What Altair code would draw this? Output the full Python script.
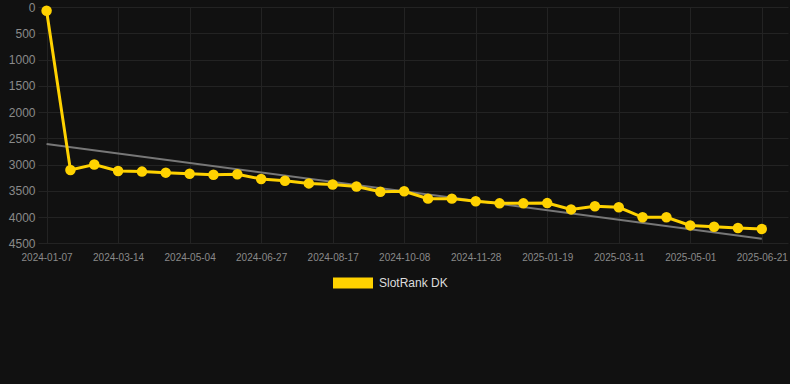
import altair as alt
import pandas as pd

# ---- data ----
series_name = "SlotRank DK"
ranks = [70, 3105, 3000, 3125, 3135, 3155, 3175, 3195, 3185, 3275, 3310,
         3360, 3380, 3420, 3520, 3510, 3650, 3650, 3700, 3740, 3740, 3735,
         3855, 3795, 3815, 4005, 4005, 4160, 4185, 4210, 4230]
tick_labels = ["2024-01-07", "2024-03-14", "2024-05-04", "2024-06-27",
               "2024-08-17", "2024-10-08", "2024-11-28", "2025-01-19",
               "2025-03-11", "2025-05-01", "2025-06-21"]
trend_idx = [0, 30]
trend_vals = [2610, 4413]
y_ticks = [0, 500, 1000, 1500, 2000, 2500, 3000, 3500, 4000, 4500]

df = pd.DataFrame({"idx": list(range(len(ranks))), "rank": ranks,
                   "series": [series_name] * len(ranks)})
trend = pd.DataFrame({"idx": trend_idx, "rank": trend_vals})

YELLOW = "#FFD200"
label_expr = "[" + ",".join("'%s'" % t for t in tick_labels) + "][round(datum.value/3)]"

x = alt.X("idx:Q",
          scale=alt.Scale(domain=[-0.36, 31.1], nice=False, zero=False),
          axis=alt.Axis(values=list(range(0, 31, 3)), labelExpr=label_expr,
                        title=None, grid=True, gridColor="#232323",
                        domain=False, ticks=False, labelColor="#8a8a8a",
                        labelFontSize=10, labelFont="Liberation Sans",
                        labelPadding=9, labelOverlap=False, labelFlush=False))
y = alt.Y("rank:Q",
          scale=alt.Scale(domain=[0, 4500], reverse=True, nice=False),
          axis=alt.Axis(values=y_ticks, format="d", title=None, grid=True,
                        gridColor="#232323", domain=False, ticks=False,
                        labelColor="#8a8a8a", labelFontSize=12,
                        labelFont="Liberation Sans", labelPadding=3,
                        labelBaseline="middle"))

trend_line = alt.Chart(trend).mark_line(color="#777777", strokeWidth=2).encode(x=x, y=y)

line = alt.Chart(df).mark_line(color=YELLOW, strokeWidth=3).encode(x=x, y=y)

points = alt.Chart(df).mark_point(filled=True, size=110, opacity=1).encode(
    x=x, y=y,
    color=alt.Color("series:N",
                    scale=alt.Scale(domain=[series_name], range=[YELLOW]),
                    legend=alt.Legend(
                        title=None, orient="none", legendX=295, legendY=256,
                        symbolType="M-1,-0.275H1V0.275H-1Z", symbolSize=1600,
                        symbolStrokeWidth=0, symbolOpacity=1,
                        labelColor="#dddddd", labelFontSize=12,
                        labelFont="Liberation Sans", labelOffset=6,
                        padding=0)))

chart = alt.layer(trend_line, line, points).properties(
    width=750, height=236.25,
    background="#111111",
    padding={"left": 38, "top": 7, "right": 2, "bottom": 140.75},
    autosize=alt.AutoSizeParams(type="none"),
).configure_view(stroke=None)

chart.save("out.html", embed_options={"renderer": "svg", "actions": False})
